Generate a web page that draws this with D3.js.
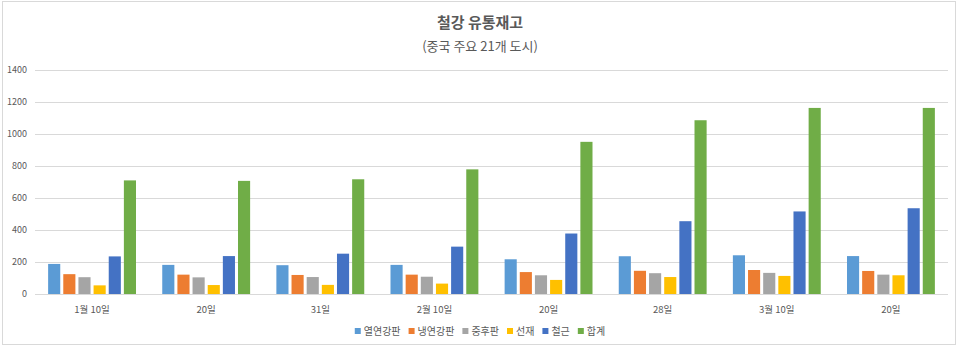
<!DOCTYPE html>
<html>
<head>
<meta charset="utf-8">
<script src="https://cdn.jsdelivr.net/npm/d3@7"></script>
<style>
  html, body { margin: 0; padding: 0; background: #fff; }
  svg { display: block; font-family: "Noto Sans CJK KR", "Noto Sans", sans-serif; }
</style>
</head>
<body>
<svg id="chart" width="960" height="347"></svg>
<script>
// Dates (x categories)
const dates = ["1월 10일", "20일", "31일", "2월 10일", "20일", "28일", "3월 10일", "20일"];
// Product series
const seriesNames = ["열연강판", "냉연강판", "중후판", "선재", "철근", "합계"];
const hotRolled  = [188, 182, 180, 182, 217, 236, 242, 237];
const coldRolled = [124, 121, 119, 121, 137, 145, 150, 144];
const plate      = [105, 104, 106, 108, 117, 130, 132, 121];
const wireRod    = [54, 56, 57, 65, 88, 106, 113, 117];
const rebar      = [235, 237, 252, 296, 378, 455, 516, 536];
const total      = [710, 707, 717, 779, 951, 1086, 1163, 1163];
const yTicks = [0, 200, 400, 600, 800, 1000, 1200, 1400];

const seriesValues = [hotRolled, coldRolled, plate, wireRod, rebar, total];
const colors = ["#5B9BD5", "#ED7D31", "#A5A5A5", "#FFC000", "#4472C4", "#70AD47"];

const svg = d3.select("#chart");
const W = 960, H = 347;
const m = { left: 35, right: 12, top: 70, bottom: 53 };
const plotW = W - m.left - m.right;
const plotH = H - m.top - m.bottom;

// outer frame
svg.append("rect")
  .attr("x", 2.5).attr("y", 1.5).attr("width", 953).attr("height", 343)
  .attr("fill", "#fff").attr("stroke", "#d9d9d9").attr("stroke-width", 1);

// titles
svg.append("text")
  .attr("x", 480).attr("y", 28).attr("text-anchor", "middle")
  .attr("font-size", 15).attr("font-weight", "bold").attr("fill", "#595959")
  .text("철강 유통재고");
svg.append("text")
  .attr("x", 480).attr("y", 51).attr("text-anchor", "middle")
  .attr("font-size", 13).attr("fill", "#595959")
  .text("(중국 주요 21개 도시)");

const g = svg.append("g").attr("transform", `translate(${m.left},${m.top})`);

const x0 = d3.scaleBand()
  .domain(d3.range(dates.length))
  .range([0, plotW])
  .paddingInner(0.23)
  .paddingOuter(0.115);

const x1 = d3.scaleBand()
  .domain(d3.range(seriesNames.length))
  .range([0, x0.bandwidth()])
  .paddingInner(0.2);

const y = d3.scaleLinear().domain([0, 1400]).range([plotH, 0]);

// gridlines
g.append("g")
  .selectAll("line")
  .data(yTicks)
  .join("line")
  .attr("x1", 0).attr("x2", plotW)
  .attr("y1", d => Math.round(y(d)) + 0.5).attr("y2", d => Math.round(y(d)) + 0.5)
  .attr("stroke", "#d9d9d9").attr("stroke-width", 1);

// y axis labels
const yAxis = d3.axisLeft(y).tickValues(yTicks).tickFormat(d3.format("d")).tickSize(0).tickPadding(8);
const ya = g.append("g").call(yAxis);
ya.select(".domain").remove();
ya.selectAll("text").attr("font-size", 9).attr("fill", "#595959")
  .attr("font-family", "\"Noto Sans CJK KR\", sans-serif");

// x axis labels
const xAxis = d3.axisBottom(x0).tickFormat(i => dates[i]).tickSize(0).tickPadding(12);
const xa = g.append("g").attr("transform", `translate(0,${plotH})`).call(xAxis);
xa.select(".domain").remove();
xa.selectAll("text").attr("font-size", 9.5).attr("fill", "#595959")
  .attr("font-family", "\"Noto Sans CJK KR\", sans-serif");

// bars
const groups = g.append("g")
  .selectAll("g")
  .data(dates.map((d, i) => i))
  .join("g")
  .attr("transform", i => `translate(${x0(i)},0)`);

groups.selectAll("rect")
  .data(i => seriesValues.map((vals, s) => ({ s, v: vals[i] })))
  .join("rect")
  .attr("x", d => x1(d.s))
  .attr("width", x1.bandwidth())
  .attr("y", d => y(d.v))
  .attr("height", d => y(0) - y(d.v))
  .attr("fill", d => colors[d.s]);

// legend
const legend = svg.append("g");
const itemW = [];
const tmp = legend.append("g");
seriesNames.forEach(n => {
  const t = tmp.append("text").attr("font-size", 10).text(n);
  itemW.push(t.node().getComputedTextLength() + 17);
});
tmp.remove();
const totalW = d3.sum(itemW);
let lx = 480 - totalW / 2 + 4;
seriesNames.forEach((n, s) => {
  const it = legend.append("g").attr("transform", `translate(${lx},331)`);
  it.append("rect").attr("x", 0).attr("y", -3).attr("width", 6).attr("height", 6).attr("fill", colors[s]);
  it.append("text").attr("x", 9).attr("y", 0).attr("dy", "0.35em")
    .attr("font-size", 10).attr("fill", "#595959").text(n);
  lx += itemW[s];
});
</script>
</body>
</html>
